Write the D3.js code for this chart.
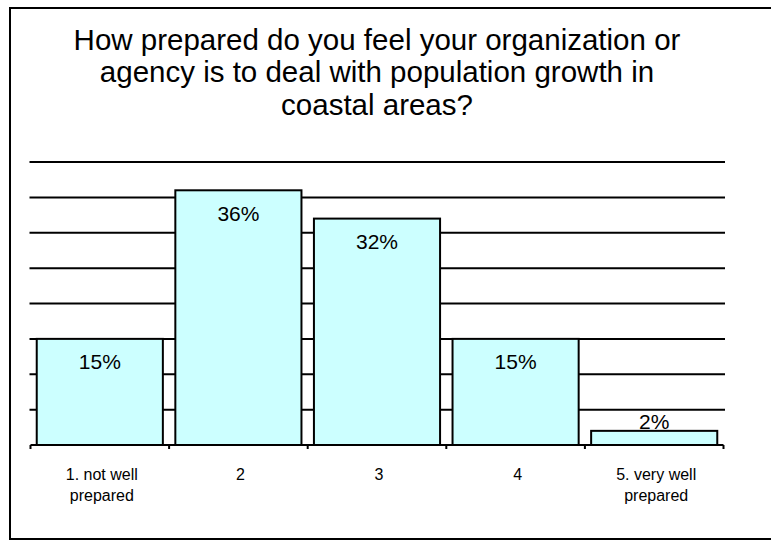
<!DOCTYPE html>
<html>
<head>
<meta charset="utf-8">
<script src="https://cdn.jsdelivr.net/npm/d3@7"></script>
<style>
  html, body { margin: 0; padding: 0; background: #fff; }
  svg { display: block; font-family: "Liberation Sans", Arial, sans-serif; }
</style>
</head>
<body>
<svg id="chart" width="771" height="542"></svg>
<script>
// Survey responses: share of respondents per preparedness level
const categories = ["1. not well prepared", "2", "3", "4", "5. very well prepared"];
const categoryLines = [["1. not well", "prepared"], ["2"], ["3"], ["4"], ["5. very well", "prepared"]];
const percentages = [15, 36, 32, 15, 2];
const gridValues = [5, 10, 15, 20, 25, 30, 35, 40];
const titleLines = [
  "How prepared do you feel your organization or",
  "agency is to deal with population growth in",
  "coastal areas?"
];

const W = 771, H = 542;
const svg = d3.select("#chart");

svg.append("rect").attr("width", W).attr("height", H).attr("fill", "#fff");

// outer frame (runs off the right edge)
svg.append("rect")
  .attr("x", 10).attr("y", 8)
  .attr("width", 800).attr("height", 531)
  .attr("fill", "none").attr("stroke", "#000").attr("stroke-width", 2);

// title
const title = svg.append("text")
  .attr("text-anchor", "middle")
  .attr("font-size", 29.5)
  .attr("fill", "#000");
titleLines.forEach((t, i) => {
  title.append("tspan").attr("x", 377).attr("y", 49.5 + i * 32.5).text(t);
});

const x = d3.scaleBand()
  .domain(categories)
  .range([30.5, 723.5])
  .paddingInner(0.09)
  .paddingOuter(0.045);

const y = d3.scaleLinear().domain([0, 40]).range([445, 162]);

// horizontal gridlines
svg.append("g")
  .selectAll("line")
  .data(gridValues)
  .join("line")
  .attr("x1", 29.5).attr("x2", 725)
  .attr("y1", d => y(d)).attr("y2", d => y(d))
  .attr("stroke", "#000").attr("stroke-width", 2);

// bars
svg.append("g")
  .selectAll("rect")
  .data(percentages)
  .join("rect")
  .attr("x", (d, i) => x(categories[i]))
  .attr("width", x.bandwidth())
  .attr("y", d => y(d))
  .attr("height", d => y(0) - y(d))
  .attr("fill", "#CCFFFF")
  .attr("stroke", "#000").attr("stroke-width", 2);

// value labels: inside the top of the bar, or above it when the bar is too short
svg.append("g")
  .selectAll("text")
  .data(percentages)
  .join("text")
  .attr("x", (d, i) => x(categories[i]) + x.bandwidth() / 2)
  .attr("y", d => (y(0) - y(d) > 35 ? y(d) + 30.5 : y(d) - 1.5))
  .attr("text-anchor", "middle")
  .attr("font-size", 21)
  .attr("fill", "#000")
  .text(d => d + "%");

// category axis
const axis = d3.axisBottom(x).tickSize(0).tickFormat("");
const gx = svg.append("g").attr("transform", `translate(0,${y(0)})`).call(axis);
gx.select(".domain").attr("stroke", "#000").attr("stroke-width", 2)
  .attr("d", `M${x.range()[0]},0H${x.range()[1]}`);

// tick marks at category boundaries
const bounds = categories.map(c => x(c) - x.step() * x.paddingInner() / 2);
bounds.push(x.range()[1]);
bounds[0] = x.range()[0];
gx.append("g").selectAll("line")
  .data(bounds)
  .join("line")
  .attr("x1", d => d).attr("x2", d => d)
  .attr("y1", 0).attr("y2", 4)
  .attr("stroke", "#000").attr("stroke-width", 2);

// category labels
const labels = svg.append("g")
  .selectAll("text")
  .data(categories)
  .join("text")
  .attr("text-anchor", "middle")
  .attr("font-size", 16)
  .attr("fill", "#000");
labels.each(function(c, i) {
  const cx = x(c) + x.bandwidth() / 2 + 2;
  categoryLines[i].forEach((line, j) => {
    d3.select(this).append("tspan").attr("x", cx).attr("y", 479.5 + j * 21.5).text(line);
  });
});
</script>
</body>
</html>
